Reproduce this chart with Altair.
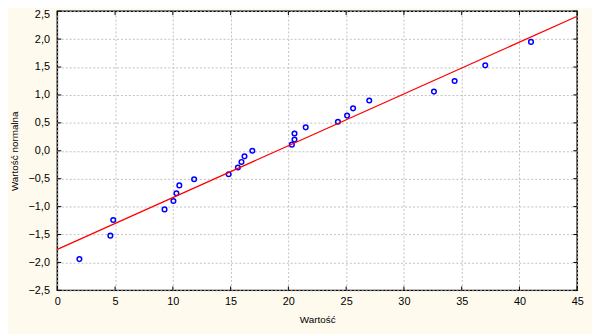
import altair as alt
import pandas as pd

# Observed values (x) and expected normal values (y)
obs_x = [1.91, 4.59, 4.84, 9.28, 10.05, 10.31, 10.56, 11.84, 14.83, 15.63, 15.94, 16.2,
         16.88, 20.3, 20.53, 20.53, 21.5, 24.29, 25.08, 25.6, 27.0, 32.6, 34.39, 37.04, 41.0]
norm_y = [-1.94, -1.52, -1.24, -1.05, -0.90, -0.76, -0.62, -0.51, -0.42, -0.30, -0.20, -0.10,
          0.00, 0.11, 0.20, 0.31, 0.42, 0.52, 0.63, 0.76, 0.90, 1.06, 1.25, 1.53, 1.95]

line_x = [0, 45]
line_y = [-1.765, 2.41]

x_ticks = [0, 5, 10, 15, 20, 25, 30, 35, 40, 45]
y_ticks = [-2.5, -2.0, -1.5, -1.0, -0.5, 0.0, 0.5, 1.0, 1.5, 2.0, 2.5]

pts = pd.DataFrame({"x": obs_x, "y": norm_y})
ln = pd.DataFrame({"x": line_x, "y": line_y})
xt = pd.DataFrame({"x": x_ticks})
yt = pd.DataFrame({"y": y_ticks})

W, H = 527, 283
FONT = "Liberation Sans"

xs = alt.Scale(domain=[0, 45], nice=False, zero=False)
ys = alt.Scale(domain=[-2.5, 2.5], nice=False, zero=False)

x_axis = alt.Axis(values=x_ticks, title="Wartość", grid=True, gridColor="#c0c0c0",
                  gridDash=[2, 2], tickSize=0, domain=False, labelPadding=5,
                  labelOverlap=False,
                  labelFont=FONT, labelFontSize=11, labelColor="#000000",
                  titleFont=FONT, titleFontSize=10, titleFontWeight="normal",
                  titleColor="#000000", titlePadding=9, labelFlush=False)
y_axis = alt.Axis(values=y_ticks, title="Wartość normalna", grid=True, gridColor="#c0c0c0",
                  gridDash=[2, 2], tickSize=0, domain=False, labelPadding=8,
                  labelOverlap=False,
                  labelOffset={"condition": {"test": "datum.value == 2.5", "value": 3}, "value": 0},
                  labelExpr="replace(format(datum.value, '.1f'), '.', ',')",
                  labelFont=FONT, labelFontSize=11, labelColor="#000000",
                  titleFont=FONT, titleFontSize=10, titleFontWeight="normal",
                  titleColor="#000000", titlePadding=9, labelFlush=False)

X = lambda f: alt.X(f, scale=xs, axis=x_axis)
Y = lambda f: alt.Y(f, scale=ys, axis=y_axis)

points = alt.Chart(pts).mark_point(shape="circle", filled=False, color="#0000ff",
                                   size=22, strokeWidth=1.5, opacity=1).encode(
    x=X("x:Q"), y=Y("y:Q"))

line = alt.Chart(ln).mark_line(color="#ff0000", strokeWidth=1.3).encode(
    x=X("x:Q"), y=Y("y:Q"))

tick_style = dict(color="#000000", strokeWidth=1)
left_ticks = alt.Chart(yt).mark_rule(**tick_style).encode(
    y=Y("y:Q"), x=alt.value(0), x2=alt.value(4))
right_ticks = alt.Chart(yt).mark_rule(**tick_style).encode(
    y=Y("y:Q"), x=alt.value(W - 4), x2=alt.value(W))
bottom_ticks = alt.Chart(xt).mark_rule(**tick_style).encode(
    x=X("x:Q"), y=alt.value(H - 4), y2=alt.value(H))
top_ticks = alt.Chart(xt).mark_rule(**tick_style).encode(
    x=X("x:Q"), y=alt.value(0), y2=alt.value(4))

chart = alt.layer(points, line, left_ticks, right_ticks, bottom_ticks, top_ticks).properties(
    width=W, height=H,
    autosize=alt.AutoSizeParams(type="none"),
    padding={"left": 50, "top": 1, "right": 15, "bottom": 42},
    background="#fffaee",
).configure_view(
    fill="#ffffff", stroke="#000000", strokeWidth=1.5
)

chart.save("out.html", embed_options={"renderer": "svg", "actions": False})
